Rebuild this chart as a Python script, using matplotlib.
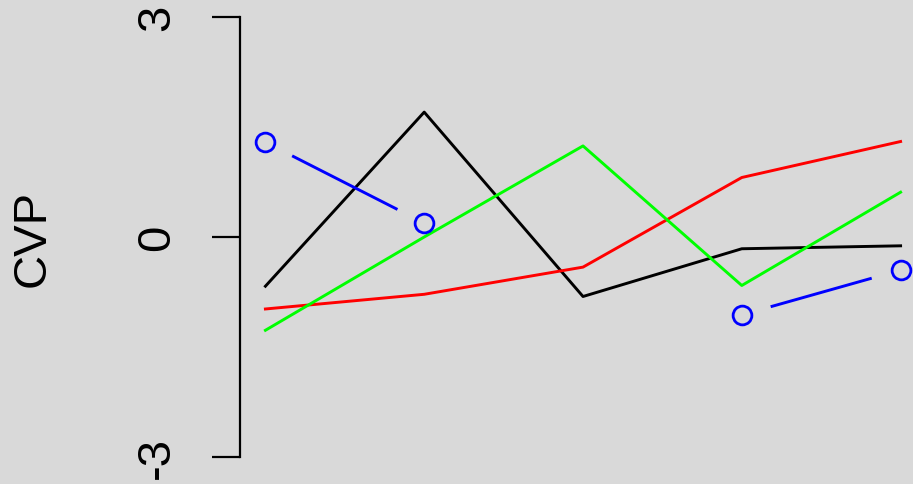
import numpy as np
import matplotlib.pyplot as plt

# Data
x = [1, 2, 3, 4, 5]
black = [-0.67, 1.70, -0.81, -0.16, -0.12]
red = [-0.98, -0.78, -0.41, 0.81, 1.30]
green = [-1.27, 0.0, 1.24, -0.66, 0.61]
blue = [1.29, 0.19, np.nan, -1.06, -0.45]

y_ticks = [-3, 0, 3]
y_label = "CVP"

BG = "#D9D9D9"
FONT = "Liberation Sans"
LW = 2.1


def draw_type_b(ax, xs, ys, color, gap_px=30):
    # R style type="b": points, plus lines that stop short of each point
    ax.plot(xs, ys, linestyle="none", marker="o", markersize=13.5,
            markerfacecolor="none", markeredgecolor=color, markeredgewidth=2.0,
            clip_on=False)
    to_disp = ax.transData
    to_data = ax.transData.inverted()
    for i in range(len(xs) - 1):
        if np.isnan(ys[i]) or np.isnan(ys[i + 1]):
            continue
        p0 = to_disp.transform((xs[i], ys[i]))
        p1 = to_disp.transform((xs[i + 1], ys[i + 1]))
        d = p1 - p0
        L = np.hypot(*d)
        if L <= 2 * gap_px:
            continue
        u = d / L
        a = to_data.transform(p0 + u * gap_px)
        b = to_data.transform(p1 - u * gap_px)
        ax.plot([a[0], b[0]], [a[1], b[1]], color=color, linewidth=LW,
                solid_capstyle="butt")


fig = plt.figure(figsize=(9.13, 4.85), dpi=100, facecolor=BG)
ax = fig.add_axes([240 / 913, 9 / 485, 686 / 913, 476 / 485])
ax.set_facecolor(BG)
ax.set_xlim(0.84, 5.16)
ax.set_ylim(-3.24, 3.24)

ax.plot(x, black, color="black", linewidth=LW)
ax.plot(x, red, color="#FF0000", linewidth=LW)
ax.plot(x, green, color="#00FF00", linewidth=LW)
draw_type_b(ax, x, blue, "#0000FF")

for s in ["top", "right", "bottom"]:
    ax.spines[s].set_visible(False)
ax.spines["left"].set_bounds(min(y_ticks), max(y_ticks))
ax.spines["left"].set_linewidth(1.6)
ax.set_xticks([])
ax.set_yticks(y_ticks)
ax.set_yticklabels([str(t) for t in y_ticks], rotation=90, va="center",
                   fontsize=34, family=FONT)
ax.tick_params(axis="y", length=20, width=1.6, pad=24)
ax.set_ylabel(y_label, fontsize=34, family=FONT, labelpad=58)

fig.savefig("out.png", dpi=100, facecolor=BG)
